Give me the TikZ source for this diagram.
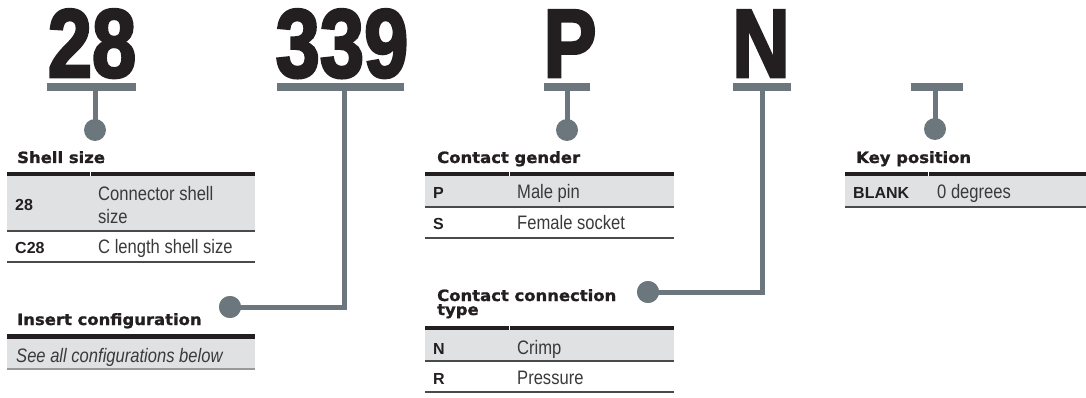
\documentclass[tikz,border=0pt]{standalone}
\usepackage{fontspec}
\usepackage{graphicx}
\setmainfont{Liberation Sans}
\newfontfamily\bigf{Liberation Sans}[BoldFeatures={FakeBold=3}]
\newfontfamily\headf{DejaVu Sans}[BoldFeatures={FakeBold=1.2}]
\definecolor{slate}{HTML}{6C777D}
\definecolor{rowgray}{HTML}{E0E1E3}
\definecolor{ink}{HTML}{231F20}
\definecolor{lightink}{HTML}{3A3A3A}
\definecolor{sepc}{HTML}{4A4A4A}
\newcommand\hx[1]{\scalebox{1.06}[1]{#1}}
\newcommand\dx[1]{\scalebox{0.85}[1]{#1}}
\newcommand\bx[1]{\scalebox{0.82}[1]{#1}}
\tikzset{
 big/.style={anchor=base, inner sep=0, font=\bigf\bfseries\fontsize{97}{97}\selectfont, text=ink},
 bar/.style={rectangle, fill=slate, inner sep=0, minimum height=8pt},
 dot/.style={circle, fill=slate, inner sep=0, minimum size=22pt},
 conn/.style={draw=slate, line width=5pt},
 head/.style={anchor=base west, inner sep=0, align=left, font=\headf\bfseries\fontsize{15.5}{14}\selectfont, text=ink},
 code/.style={anchor=base west, inner sep=0, font=\bfseries\fontsize{16}{16}\selectfont, text=ink},
 desc/.style={anchor=base west, inner sep=0, align=left, font=\fontsize{19.5}{23}\selectfont, text=lightink},
 sep/.style={draw=sepc, line width=1.2pt},
 hdr/.style={fill=ink},
 gap/.style={draw=white, line width=0.8pt},
}
\begin{document}
\begin{tikzpicture}[x=1pt,y=-1pt]
\useasboundingbox (0,0) rectangle (1086,398);

% big code characters
\node[big] (t28) at (92,77) {\bx{28}};
\node[big] (t339) at (342,77) {\bx{339}};
\node[big] (tP) at (570,77) {\bx{P}};
\node[big] (tN) at (761,77) {\bx{N}};

% bars
\node[bar, minimum width=89pt] (b28) at (91.5,87) {};
\node[bar, minimum width=127pt] (b339) at (340.5,87) {};
\node[bar, minimum width=46pt] (bP) at (567,87) {};
\node[bar, minimum width=58pt] (bN) at (762,87) {};
\node[bar, minimum width=52pt] (bK) at (937,87) {};

% stem start points (bottom edges of bars)
\coordinate (s28) at (95,91);
\coordinate (s339) at (344.5,91);
\coordinate (sP) at (567,91);
\coordinate (sN) at (762.5,91);
\coordinate (sK) at (935,91);

% dots
\node[dot] (d28) at (95,130) {};
\node[dot] (dIns) at (230,307) {};
\node[dot] (dP) at (567,130) {};
\node[dot] (dCT) at (648,292) {};
\node[dot] (dK) at (935,129) {};

% connectors
\draw[conn] (s28) -- (d28.center);
\draw[conn] (s339) |- (dIns.center);
\draw[conn] (sP) -- (dP.center);
\draw[conn] (sN) |- (dCT.center);
\draw[conn] (sK) -- (dK.center);
\node[dot] at (dIns) {};
\node[dot] at (dCT) {};

% ---------- Shell size ----------
\node[head] (hShell) at (17,163) {\hx{Shell size}};
\fill[rowgray] (7,176) rectangle (255,231);
\fill[hdr] (7,172) rectangle (255,176);
\draw[gap] (90,172) -- (90,176);
\draw[sep] (7,231) -- (255,231);
\draw[sep] (7,262) -- (255,262);
\node[code] (c28) at (15,210) {28};
\node[desc] (e28) at (98,223) {\dx{Connector shell}\\\dx{size}};
\node[code] (cC28) at (15,253) {C28};
\node[desc] (eC28) at (98,253) {\dx{C length shell size}};

% ---------- Insert configuration ----------
\node[head] (hIns) at (17,325) {\hx{Insert configuration}};
\fill[rowgray] (7,339) rectangle (255,369);
\fill[hdr] (7,334) rectangle (255,339);
\draw[draw=gray!80, line width=1.2pt] (7,369) -- (255,369);
\node[desc] (eIns) at (16,362) {\dx{\itshape See all configurations below}};

% ---------- Contact gender ----------
\node[head] (hGen) at (437,163) {\hx{Contact gender}};
\fill[rowgray] (425,176) rectangle (674,207);
\fill[hdr] (425,172) rectangle (674,176);
\draw[gap] (509,172) -- (509,176);
\draw[sep] (425,207) -- (674,207);
\draw[sep] (425,238) -- (674,238);
\node[code] (cP) at (433,199) {P};
\node[desc] (eP) at (517,199) {\dx{Male pin}};
\node[code] (cS) at (433,229) {S};
\node[desc] (eS) at (517,229) {\dx{Female socket}};

% ---------- Contact connection type ----------
\node[head] (hCT) at (437,315) {\hx{Contact connection}\\\hx{type}};
\fill[rowgray] (425,330) rectangle (674,361);
\fill[hdr] (425,326) rectangle (674,330);
\draw[gap] (509,326) -- (509,330);
\draw[sep] (425,361) -- (674,361);
\draw[sep] (425,392) -- (674,392);
\node[code] (cN) at (433,354) {N};
\node[desc] (eN) at (517,354) {\dx{Crimp}};
\node[code] (cR) at (433,384) {R};
\node[desc] (eR) at (517,384) {\dx{Pressure}};

% ---------- Key position ----------
\node[head] (hKey) at (856,163) {\hx{Key position}};
\fill[rowgray] (845,176) rectangle (1086,207);
\fill[hdr] (845,172) rectangle (1086,176);
\draw[gap] (928,172) -- (928,176);
\draw[sep] (845,207) -- (1086,207);
\node[code] (cB) at (853,199) {BLANK};
\node[desc] (eB) at (937,199) {\dx{0 degrees}};
\end{tikzpicture}
\end{document}
